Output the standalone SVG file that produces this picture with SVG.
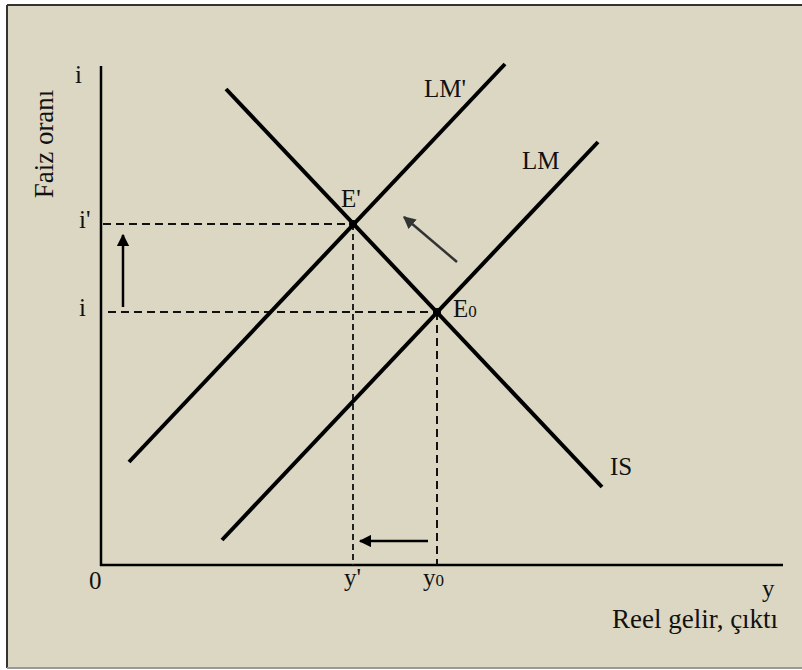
<svg xmlns="http://www.w3.org/2000/svg" width="802" height="670" viewBox="0 0 802 670">
<defs>
<style>
.t{font-family:"Liberation Serif","Times New Roman",serif;font-size:25px;fill:#111}
.s{font-size:17px}
.big{font-size:27px}
.curve{stroke:#000;stroke-width:4;fill:none}
.axis{stroke:#000;stroke-width:2.5;fill:none}
.dash{stroke:#111;stroke-width:2;fill:none;stroke-dasharray:8 5}
.vdash{stroke:#222;stroke-width:2;fill:none;stroke-dasharray:6 4}
.arr{stroke:#000;stroke-width:2.5;fill:none}
</style>
<marker id="ah" viewBox="0 0 10 10" refX="9" refY="5" markerWidth="5" markerHeight="5" orient="auto" markerUnits="strokeWidth">
<path d="M0,0 L10,5 L0,10 z" fill="#000"/>
</marker>
<marker id="ah2" viewBox="0 0 10 10" refX="9" refY="5" markerWidth="5" markerHeight="5" orient="auto" markerUnits="strokeWidth">
<path d="M0,0 L10,5 L0,10 z" fill="#333"/>
</marker>
</defs>
<rect x="0" y="0" width="802" height="670" fill="#ffffff"/>
<rect x="7" y="5" width="795" height="663" fill="#DCD7C2"/>
<line x1="7" y1="5" x2="802" y2="5" stroke="#333" stroke-width="2"/>
<line x1="7" y1="5" x2="7" y2="668" stroke="#333" stroke-width="2"/>
<line x1="7" y1="668" x2="802" y2="668" stroke="#999" stroke-width="2"/>

<g id="axes">
<line class="axis" x1="101" y1="66" x2="101" y2="566"/>
<line class="axis" x1="100" y1="565" x2="783" y2="565"/>
</g>

<g id="connectors">
<line class="dash" x1="103" y1="224" x2="353" y2="224"/>
<line class="dash" x1="108" y1="312" x2="437" y2="312"/>
<line class="vdash" x1="353" y1="224" x2="353" y2="565"/>
<line class="dash" x1="437" y1="312" x2="437" y2="565"/>
<line class="arr" x1="123" y1="307" x2="123" y2="235" marker-end="url(#ah)"/>
<line class="arr" x1="428" y1="541" x2="360" y2="541" marker-end="url(#ah)"/>
<line x1="457" y1="262" x2="404" y2="217" stroke="#333" stroke-width="2.5" marker-end="url(#ah2)"/>
</g>

<g id="IS">
<line class="curve" x1="226" y1="89" x2="602" y2="487"/>
<text class="t" x="610" y="475">IS</text>
</g>
<g id="LM-prime">
<line class="curve" x1="129" y1="462" x2="505" y2="64"/>
<text class="t" x="424" y="97">LM'</text>
</g>
<g id="LM">
<line class="curve" x1="222" y1="540" x2="598" y2="142"/>
<text class="t" x="522" y="169">LM</text>
</g>
<g id="E-prime">
<circle cx="353" cy="224" r="4" fill="#000"/>
<text class="t" x="341" y="207">E'</text>
</g>
<g id="E0">
<circle cx="437" cy="312" r="4" fill="#000"/>
<text class="t" x="453" y="317">E<tspan class="s">0</tspan></text>
</g>

<g id="labels">
<text class="t" x="75" y="83">i</text>
<text class="t big" transform="translate(53,144) rotate(-90)" text-anchor="middle">Faiz oranı</text>
<text class="t" x="79" y="228">i'</text>
<text class="t" x="79" y="316">i</text>
<text class="t" x="89" y="589">0</text>
<text class="t" x="344" y="586">y'</text>
<text class="t" x="423" y="586">y<tspan class="s">0</tspan></text>
<text class="t" x="762" y="597">y</text>
<text class="t big" x="612" y="628">Reel gelir, çıktı</text>
</g>
</svg>
